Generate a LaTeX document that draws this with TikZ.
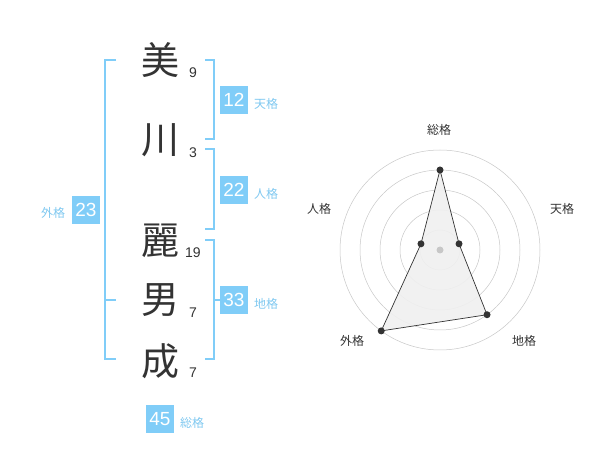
\documentclass[tikz,border=0pt]{standalone}
\usepackage{fontspec}
\usetikzlibrary{calc}
\setmainfont{Liberation Sans}
\newfontfamily\cjk{Noto Sans CJK JP}
\definecolor{sky}{HTML}{80CDF8}
\definecolor{skytext}{HTML}{7FC8F0}
\definecolor{ink}{HTML}{333333}
\begin{document}
\begin{tikzpicture}[x=1pt,y=-1pt,
  kanji/.style={font=\cjk\fontsize{38}{38}\selectfont, text=ink, inner sep=0pt},
  strokes/.style={font=\fontsize{14}{14}\selectfont, text=ink, inner sep=0pt},
  numbox/.style={fill=sky, text=white, minimum width=28pt, minimum height=28pt, inner sep=0pt, font=\fontsize{19}{19}\selectfont},
  kaku/.style={font=\cjk\fontsize{12}{12}\selectfont, text=skytext, inner sep=0pt},
  brk/.style={draw=sky, line width=1.6pt},
  axis/.style={font=\cjk\fontsize{12}{12}\selectfont, text=ink, inner sep=0pt},
  ring/.style={draw=black!22, line width=0.5pt},
  dot/.style={circle, fill=ink, inner sep=0pt, minimum size=7pt}]
\useasboundingbox (0,0) rectangle (600,470);
% characters
\node[kanji] (k1) at (160,60) {美};
\node[kanji] (k2) at (160,140) {川};
\node[kanji] (k3) at (160,241) {麗};
\node[kanji] (k4) at (160,300) {男};
\node[kanji] (k5) at (160,361) {成};
\node[strokes] (s1) at (193,73) {9};
\node[strokes] (s2) at (193,153) {3};
\node[strokes] (s3) at (193,253) {19};
\node[strokes] (s4) at (193,313) {7};
\node[strokes] (s5) at (193,373) {7};
% brackets
\draw[brk] (116,60) -- (105,60) -- (105,359) -- (116,359);
\draw[brk] (105,300) -- (116,300);
\draw[brk] (205,60) -- (214,60) -- (214,139) -- (205,139);
\draw[brk] (205,149) -- (214,149) -- (214,229) -- (205,229);
\draw[brk] (205,240) -- (214,240) -- (214,359) -- (205,359);
\draw[brk] (214,300) -- (223,300);
% boxes
\node[numbox] (b1) at (234,100) {12};
\node[kaku] (l1) at (266,104) {天格};
\node[numbox] (b2) at (234,190) {22};
\node[kaku] (l2) at (266,194) {人格};
\node[numbox] (b3) at (86,210) {23};
\node[kaku] (l3) at (53,213) {外格};
\node[numbox] (b4) at (234,300) {33};
\node[kaku] (l4) at (266,304) {地格};
\node[numbox] (b5) at (160,419) {45};
\node[kaku] (l5) at (192,423) {総格};
% radar
\coordinate (c) at (440,250);
\foreach \r in {20,40,60,80,100} \draw[ring] (c) circle[radius=\r];
\coordinate (p1) at ($(c)+(-90:80)$);
\coordinate (p2) at ($(c)+(-18:20)$);
\coordinate (p3) at ($(c)+(54:80)$);
\coordinate (p4) at ($(c)+(126:100)$);
\coordinate (p5) at ($(c)+(198:20)$);
\draw[fill=black!6, fill opacity=0.9, draw=ink, line width=0.7pt] (p1) -- (p2) -- (p3) -- (p4) -- (p5) -- cycle;
\node[circle, fill=black!22, inner sep=0pt, minimum size=7pt] (cd) at (c) {};
\foreach \i in {1,...,5} \node[dot] (d\i) at (p\i) {};
\node[axis] (a1) at (439,130) {総格};
\node[axis] (a2) at (562,209) {天格};
\node[axis] (a3) at (524,341) {地格};
\node[axis] (a4) at (352,341) {外格};
\node[axis] (a5) at (319,209) {人格};
\end{tikzpicture}
\end{document}
